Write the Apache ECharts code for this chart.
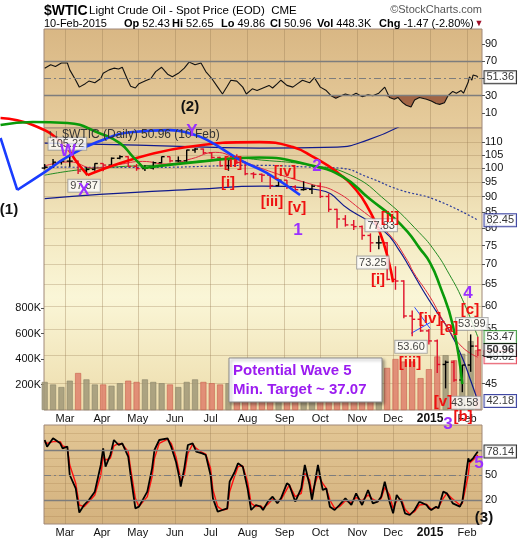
<!DOCTYPE html>
<html><head><meta charset="utf-8">
<script src="https://cdn.jsdelivr.net/npm/echarts@6/dist/echarts.min.js"></script>
<style>html,body{margin:0;padding:0;background:#fff}#c{width:520px;height:540px}</style>
</head><body><div id="c"></div>
<script>
// ---------------- DATA ----------------
const weekDates = ['2014-02-12','2014-02-19','2014-02-26','2014-03-05','2014-03-12','2014-03-19','2014-03-26','2014-04-02','2014-04-09','2014-04-16','2014-04-23','2014-04-30','2014-05-07','2014-05-14','2014-05-21','2014-05-28','2014-06-04','2014-06-11','2014-06-18','2014-06-25','2014-07-02','2014-07-09','2014-07-16','2014-07-23','2014-07-30','2014-08-06','2014-08-13','2014-08-20','2014-08-27','2014-09-03','2014-09-10','2014-09-17','2014-09-24','2014-10-01','2014-10-08','2014-10-15','2014-10-22','2014-10-29','2014-11-05','2014-11-12','2014-11-19','2014-11-26','2014-12-03','2014-12-10','2014-12-17','2014-12-24','2014-12-31','2015-01-07','2015-01-14','2015-01-21','2015-01-28','2015-02-04','2015-02-10'];
const openP  = [100.0,100.3,102.2,102.6,102.6,98.9,99.5,101.7,101.1,103.7,104.3,100.6,99.8,100.0,102.0,104.3,102.7,102.7,106.9,107.3,105.8,104.0,100.9,103.1,102.1,97.9,97.7,97.4,93.7,95.6,93.3,92.3,92.4,93.5,90.0,85.8,82.8,81.0,80.5,77.9,75.8,75.8,66.2,65.8,57.8,57.1,54.7,52.7,48.3,48.7,45.6,48.2,51.7];
const highP  = [101.5,103.4,103.0,105.22,102.8,100.3,101.8,101.8,104.0,104.9,104.5,101.5,101.0,102.5,104.4,104.4,104.4,107.0,107.7,107.5,106.0,104.3,103.2,105.2,102.5,98.5,98.0,97.5,96.0,95.7,93.8,95.2,94.0,94.8,91.0,86.0,84.0,82.5,80.8,78.5,77.83,76.0,69.5,66.0,59.0,58.5,55.1,53.0,49.0,49.0,48.2,53.99,53.5];
const lowP   = [99.5,100.0,101.3,100.5,97.8,97.37,99.0,98.8,100.5,103.3,100.5,99.0,98.9,99.5,101.8,102.1,102.3,102.3,105.8,105.3,103.5,100.5,99.0,101.5,97.4,96.2,95.0,92.5,93.5,92.5,91.5,92.0,90.8,89.5,85.0,80.0,80.5,79.5,76.7,73.25,74.0,66.0,63.7,57.3,53.60,54.5,52.0,46.8,44.2,45.3,43.58,47.0,49.86];
const closeP = [100.3,102.2,102.6,102.6,98.9,99.5,101.7,101.1,103.7,104.3,100.6,99.8,100.0,102.0,104.3,102.7,102.7,106.9,107.3,105.8,104.0,100.9,103.1,102.1,97.9,97.7,97.4,93.7,95.6,93.3,92.3,92.4,93.5,90.0,85.8,82.8,81.0,80.5,77.9,75.8,75.8,66.2,65.8,57.8,57.1,54.7,52.7,48.3,48.7,45.6,48.2,51.7,50.96];
const volumeK = [220,200,180,230,290,240,200,200,190,210,230,220,240,220,210,200,180,220,240,220,210,200,210,230,260,230,220,240,200,220,230,210,230,260,300,360,290,280,270,280,260,330,400,380,380,250,320,420,430,390,440,540,470];

const rsiDates = ['2014-02-12','2014-02-17','2014-02-21','2014-02-26','2014-03-03','2014-03-05','2014-03-10','2014-03-13','2014-03-18','2014-03-21','2014-03-26','2014-03-31','2014-04-02','2014-04-07','2014-04-11','2014-04-15','2014-04-18','2014-04-22','2014-04-25','2014-04-29','2014-05-02','2014-05-07','2014-05-12','2014-05-16','2014-05-21','2014-05-26','2014-05-30','2014-06-04','2014-06-09','2014-06-13','2014-06-18','2014-06-23','2014-06-27','2014-07-02','2014-07-07','2014-07-11','2014-07-15','2014-07-18','2014-07-23','2014-07-28','2014-07-31','2014-08-05','2014-08-09','2014-08-14','2014-08-19','2014-08-22','2014-08-26','2014-08-29','2014-09-03','2014-09-08','2014-09-12','2014-09-16','2014-09-22','2014-09-26','2014-10-01','2014-10-06','2014-10-10','2014-10-14','2014-10-17','2014-10-22','2014-10-27','2014-10-31','2014-11-05','2014-11-10','2014-11-14','2014-11-19','2014-11-24','2014-11-28','2014-12-02','2014-12-05','2014-12-09','2014-12-12','2014-12-16','2014-12-19','2014-12-23','2014-12-29','2015-01-02','2015-01-06','2015-01-09','2015-01-13','2015-01-16','2015-01-20','2015-01-23','2015-01-27','2015-01-29','2015-02-02','2015-02-03','2015-02-05','2015-02-06','2015-02-09','2015-02-10'];
const rsiValues = [62,66,64,68,68,60,48,40,44,47,45,50,56,60,62,61,63,50,41,39,44,47,50,58,63,55,52,56,62,69,66,68,58,50,40,32,41,48,47,40,32,38,36,39,42,39,44,48,42,40,44,48,45,51,40,36,30,27,29,32,30,33,29,31,30,33,40,28,26,28,22,19,17,25,28,26,24,21,20,22,30,35,33,36,33,46,52,48,54,53,51.36];

const stochDates = ['2014-02-12','2014-02-14','2014-02-19','2014-02-25','2014-02-27','2014-03-03','2014-03-05','2014-03-10','2014-03-13','2014-03-17','2014-03-21','2014-03-26','2014-03-31','2014-04-02','2014-04-04','2014-04-08','2014-04-11','2014-04-15','2014-04-18','2014-04-23','2014-04-25','2014-04-29','2014-05-02','2014-05-09','2014-05-13','2014-05-15','2014-05-19','2014-05-26','2014-05-29','2014-06-02','2014-06-05','2014-06-06','2014-06-09','2014-06-12','2014-06-16','2014-06-19','2014-06-24','2014-06-27','2014-07-01','2014-07-03','2014-07-07','2014-07-11','2014-07-15','2014-07-17','2014-07-21','2014-07-24','2014-07-28','2014-08-01','2014-08-04','2014-08-08','2014-08-12','2014-08-14','2014-08-18','2014-08-22','2014-08-26','2014-08-29','2014-09-03','2014-09-05','2014-09-10','2014-09-15','2014-09-18','2014-09-22','2014-09-24','2014-09-29','2014-10-03','2014-10-06','2014-10-09','2014-10-13','2014-10-17','2014-10-22','2014-10-27','2014-10-31','2014-11-05','2014-11-10','2014-11-14','2014-11-18','2014-11-21','2014-11-24','2014-11-28','2014-12-01','2014-12-04','2014-12-08','2014-12-11','2014-12-15','2014-12-19','2014-12-23','2014-12-29','2014-12-31','2015-01-02','2015-01-06','2015-01-08','2015-01-12','2015-01-15','2015-01-16','2015-01-20','2015-01-26','2015-01-28','2015-02-02','2015-02-03','2015-02-06','2015-02-10'];
const stochK = [92,84,94,88,82,84,50,34,5,14,20,30,62,82,60,74,92,86,88,72,50,10,12,30,58,80,92,94,84,66,46,36,58,86,88,78,76,74,50,22,6,8,10,42,53,64,60,34,8,14,12,8,18,24,16,22,40,38,18,34,62,38,20,62,32,34,12,8,14,22,14,28,14,32,16,18,24,42,18,4,26,18,4,2,8,18,14,10,8,12,10,30,28,30,16,12,18,70,66,70,78.14];
const stochD = [90,88,90,90,85,83,62,40,14,12,18,26,50,72,68,70,85,88,87,78,58,22,12,24,48,70,88,93,88,72,52,42,50,76,87,82,77,75,58,32,12,8,9,30,48,60,61,42,16,12,13,10,15,21,19,20,33,38,24,28,52,44,28,50,40,34,20,10,12,19,17,23,19,26,21,18,22,35,26,10,19,21,9,3,6,14,15,12,9,11,11,22,28,29,21,14,16,50,64,68,74];

const ma200Line   = [['2014-02-12',100.4],['2014-05-01',100.2],['2014-08-13',101.0],['2014-09-20',100.4],['2014-10-17',100.0],['2014-11-11',96.5],['2014-12-06',92.3],['2015-01-05',89.0],['2015-02-10',82.45]];
const greenMaLine = [['2014-02-12',97.4],['2014-03-12',99.3],['2014-04-15',100.5],['2014-05-20',101.2],['2014-06-20',102.5],['2014-07-20',103.8],['2014-08-13',103.0],['2014-09-22',101.1],['2014-10-26',97.5],['2014-11-26',88.3],['2014-12-23',78.7],['2015-01-05',73.5],['2015-01-17',67.5],['2015-01-28',61.5],['2015-02-10',53.47]];
const redMaLine   = [['2014-02-12',100.8],['2014-03-05',102.3],['2014-03-25',100.0],['2014-04-15',101.3],['2014-05-05',102.5],['2014-05-25',101.5],['2014-06-15',103.5],['2014-07-05',106.0],['2014-07-25',103.0],['2014-08-15',99.5],['2014-09-05',96.5],['2014-09-25',94.0],['2014-10-12',92.0],['2014-11-03',86.0],['2014-11-27',78.5],['2014-12-13',71.0],['2014-12-18',68.0],['2015-01-01',62.0],['2015-01-14',56.0],['2015-01-28',51.5],['2015-02-10',49.62]];
const navyLowLine = [['2014-02-12',89.3],['2014-03-30',90.7],['2014-06-20',92.5],['2014-08-13',93.5],['2014-09-30',92.2],['2014-10-26',85.5],['2014-11-24',79.0],['2014-12-06',73.8],['2014-12-15',69.1],['2014-12-26',63.6],['2015-01-06',58.9],['2015-01-17',54.8],['2015-01-28',49.5],['2015-02-04',45.5],['2015-02-10',42.18]];
const navyHighLine = [['2014-02-12',109.7],['2014-05-01',108.9],['2014-08-11',107.7],['2014-10-15',108.1],['2014-11-10',111.0],['2014-12-06',116.5]];

const redArcA   = [['2014-01-06',120.4],['2014-02-02',117.3],['2014-02-27',109.7],['2014-03-11',102.2],['2014-03-20',97.4]];
const redArcB   = [['2014-03-20',97.4],['2014-06-11',108.1],['2014-08-11',110.1],['2014-09-08',108.1],['2014-09-25',104.2],['2014-10-15',98.5],['2014-10-31',92.2],['2014-11-11',85.6],['2014-11-20',78.7],['2014-11-27',71.2],['2014-12-01',65.5]];
const greenArcA = [['2014-01-06',117.3],['2014-02-02',118.6],['2014-03-03',118.2],['2014-03-30',113.8],['2014-04-16',109.7],['2014-04-27',104.2],['2014-05-06',100.0]];
const greenArcB = [['2014-05-06',100.0],['2014-06-22',102.4],['2014-08-11',104.0],['2014-09-22',101.1],['2014-10-20',96.8],['2014-11-11',89.3],['2014-12-01',83.3],['2014-12-13',79.0],['2014-12-23',74.4],['2015-01-01',70.4],['2015-01-09',64.8],['2015-01-20',55.9],['2015-01-28',44.9]];
const blueArcA  = [['2014-01-06',111.8],['2014-01-13',101.5],['2014-01-20',92.2]];
const blueArcB  = [['2014-01-20',92.2],['2014-02-12',98.5],['2014-03-03',104.2],['2014-03-28',110.1],['2014-04-27',114.3],['2014-05-28',115.1],['2014-06-13',113.8],['2014-06-28',111.0],['2014-07-26',103.0],['2014-08-17',98.2],['2014-09-14',90.5]];
const triUpper  = [['2014-12-19',59.7],['2015-01-01',55.2]];
const triLower  = [['2014-12-16',54.2],['2015-01-01',56.4]];

const pricePoints = [['2014-03-03',105.22,'top'],['2014-03-17',97.37,'bottom'],['2014-11-14',73.25,'bottom'],['2014-11-21',77.83,'top'],['2014-12-16',53.60,'bottom'],['2015-02-05',53.99,'top'],['2015-01-30',43.58,'bottom']];

const monthStarts = ['2014-03-01','2014-04-01','2014-05-01','2014-06-01','2014-07-01','2014-08-01','2014-09-01','2014-10-01','2014-11-01','2014-12-01','2015-01-01','2015-02-01'];
const monthNames  = ['Mar','Apr','May','Jun','Jul','Aug','Sep','Oct','Nov','Dec','2015','Feb'];
const priceTicks  = [45,50,55,60,65,70,75,80,85,90,95,100,105,110];
const volumeTicks = [200,400,600,800];

// ---------------- CHART ----------------
const FONT = "'Liberation Sans', Arial, sans-serif";
const T = d => Date.parse(d);
const LN = Math.log;
const X_MIN = Date.parse('2014-02-11T10:00:00Z');
const X_MAX = Date.parse('2015-02-13T12:00:00Z');
const monthTs = monthStarts.map(T);
const monthMap = {}; monthTs.forEach((t, i) => monthMap[t] = monthNames[i]);

const G = echarts.graphic;
const gridL = 44, gridW = 438;
const P_TOP = 128, P_H = 282, P_MIN = LN(40.8), P_MAX = LN(116.0);
// overlay grid spanning the left margin and all panels, same price / date scale as the price panel
const O_LEFT = 0, O_TOP = 29, O_BOTTOM = 524;
const msPerPx = (X_MAX - X_MIN) / gridW;
const lnPerPx = (P_MAX - P_MIN) / P_H;
const O_XMIN = X_MIN - (gridL - O_LEFT) * msPerPx;
const O_YMAX = P_MAX + (P_TOP - O_TOP) * lnPerPx;
const O_YMIN = P_MIN - (O_BOTTOM - (P_TOP + P_H)) * lnPerPx;

function xAxis(gi, labels) {
  return {
    type: 'value', gridIndex: gi, min: X_MIN, max: X_MAX,
    axisLine: { show: false },
    axisTick: { show: false, customValues: monthTs },
    axisLabel: {
      show: labels, customValues: monthTs, margin: 3, fontSize: 11, color: '#111', fontFamily: FONT,
      formatter: v => monthMap[v] === '2015' ? '{b|2015}' : (monthMap[v] || ''),
      rich: { b: { fontWeight: 'bold', fontSize: 12, fontFamily: FONT, color: '#111' } }
    },
    splitLine: { show: true, lineStyle: { color: 'rgba(150,120,80,0.35)', width: 1 } }
  };
}

const line = (data, color, width, extra) => Object.assign({
  type: 'line', xAxisIndex: 1, yAxisIndex: 1, showSymbol: false, symbol: 'none', smooth: true,
  data: data.map(p => [T(p[0]), LN(p[1])]),
  lineStyle: { color, width }, silent: true, animation: false
}, extra || {});
const arc = (data, color) => line(data, color, 2.6, { xAxisIndex: 3, yAxisIndex: 4, z: 6 });

const ohlc = weekDates.map((d, i) => [T(d), LN(openP[i]), LN(highP[i]), LN(lowP[i]), LN(closeP[i]),
  (i === 0 ? closeP[i] >= openP[i] : closeP[i] >= closeP[i - 1]) ? 1 : 0]);

function tag(gi, yi, value, text, color, bold) {
  return {
    type: 'scatter', xAxisIndex: gi, yAxisIndex: yi, symbolSize: 1, itemStyle: { color: 'rgba(0,0,0,0)' },
    data: [[X_MAX, value]], silent: true, animation: false, z: 20, clip: false,
    label: {
      show: true, position: 'right', distance: 2, formatter: text,
      fontSize: 11, fontFamily: FONT, fontWeight: bold ? 'bold' : 'normal', color: '#000',
      backgroundColor: '#fff', borderColor: color, borderWidth: 1, padding: [1, 2, 0, 2]
    }
  };
}

const dashDot = [7, 3, 2, 3];
const option = {
  animation: false,
  backgroundColor: '#fff',
  grid: [
    { left: gridL, width: gridW, top: 29, height: 99, show: true, borderColor: '#a08878', borderWidth: 1,
      backgroundColor: new G.LinearGradient(0, 0, 0, 1, [{ offset: 0, color: '#d9b784' }, { offset: 1, color: '#e6cc9c' }]) },
    { left: gridL, width: gridW, top: P_TOP, height: P_H, show: true, borderColor: '#a08878', borderWidth: 1,
      backgroundColor: new G.LinearGradient(0, 0, 0, 1, [{ offset: 0, color: '#dfc493' }, { offset: 0.35, color: '#f3e8c0' }, { offset: 0.6, color: '#faf6d7' }, { offset: 1, color: '#eddcab' }]) },
    { left: gridL, width: gridW, top: 425, height: 99, show: true, borderColor: '#a08878', borderWidth: 1,
      backgroundColor: new G.LinearGradient(0, 0, 0, 1, [{ offset: 0, color: '#e2c695' }, { offset: 1, color: '#d4b27e' }]) },
    { left: O_LEFT, width: gridL + gridW - O_LEFT, top: O_TOP, height: O_BOTTOM - O_TOP, show: false }
  ],
  xAxis: [xAxis(0, false), xAxis(1, true), xAxis(2, true),
    { type: 'value', gridIndex: 3, min: O_XMIN, max: X_MAX, show: false }],
  yAxis: [
    { type: 'value', gridIndex: 0, position: 'right', min: -7.4, max: 107.4,
      axisLine: { show: false }, splitLine: { show: false },
      axisTick: { show: true, length: 3, customValues: [10, 30, 50, 70, 90], lineStyle: { color: '#555' } },
      axisLabel: { customValues: [10, 30, 70, 90], margin: 3, fontSize: 11, color: '#111', fontFamily: FONT } },
    { type: 'value', gridIndex: 1, position: 'right', min: P_MIN, max: P_MAX,
      axisLine: { show: false },
      splitLine: { show: true, lineStyle: { color: 'rgba(150,120,80,0.3)', width: 1 } },
      axisTick: { show: true, length: 3, customValues: priceTicks.map(LN), lineStyle: { color: '#555' } },
      axisLabel: { customValues: priceTicks.map(LN), margin: 3, fontSize: 11, color: '#111', fontFamily: FONT,
        formatter: v => String(Math.round(Math.exp(v))) } },
    { type: 'value', gridIndex: 1, position: 'left', min: 0, max: 2212,
      axisLine: { show: false }, splitLine: { show: false },
      axisTick: { show: true, length: 3, customValues: volumeTicks, lineStyle: { color: '#555' } },
      axisLabel: { customValues: volumeTicks, margin: 3, fontSize: 11, color: '#111', fontFamily: FONT, formatter: v => v + 'K' } },
    { type: 'value', gridIndex: 2, position: 'right', min: -8.8, max: 110,
      axisLine: { show: false },
      splitLine: { show: true, lineStyle: { color: 'rgba(150,110,60,0.22)', width: 1 } },
      axisTick: { show: false, customValues: [0, 10, 20, 30, 40, 50, 60, 70, 80, 90, 100] },
      axisLabel: { customValues: [20, 50], margin: 3, fontSize: 11, color: '#111', fontFamily: FONT } },
    { type: 'value', gridIndex: 3, min: O_YMIN, max: O_YMAX, show: false }
  ],
  series: [
    // RSI panel
    { type: 'line', xAxisIndex: 0, yAxisIndex: 0, symbol: 'none', silent: true,
      data: rsiDates.map((d, i) => [T(d), Math.min(rsiValues[i], 30)]),
      lineStyle: { width: 0 }, areaStyle: { origin: 30, color: '#9b5a3c', opacity: 0.9 } },
    { type: 'line', xAxisIndex: 0, yAxisIndex: 0, symbol: 'none', silent: true,
      data: rsiDates.map((d, i) => [T(d), rsiValues[i]]),
      lineStyle: { color: '#111', width: 1.1 },
      markLine: { silent: true, symbol: 'none', label: { show: false },
        data: [ { yAxis: 70, lineStyle: { color: '#7d7d7d', width: 1.3, type: 'solid' } },
                { yAxis: 30, lineStyle: { color: '#7d7d7d', width: 1.3, type: 'solid' } },
                { yAxis: 50, lineStyle: { color: '#7d7d7d', width: 1.1, type: dashDot } } ] } },
    tag(0, 0, 51.36, '51.36', '#000', false),

    // Volume
    { type: 'bar', xAxisIndex: 1, yAxisIndex: 2, silent: true, barWidth: 6, z: 1,
      data: weekDates.map((d, i) => ({ value: [T(d), volumeK[i]],
        itemStyle: { color: ohlc[i][5] ? 'rgba(160,152,120,0.85)' : 'rgba(222,128,108,0.85)',
                     borderColor: ohlc[i][5] ? '#8a8468' : '#c8604c', borderWidth: 0.6 } })) },

    // Bands & moving averages
    line(navyHighLine, '#101a8c', 1.2),
    line(navyLowLine, '#101a8c', 1.2),
    line(ma200Line, '#2c3c9c', 1.2, { lineStyle: { color: '#2c3c9c', width: 1.2, type: [2, 2] } }),
    line(greenMaLine, '#228b22', 1),
    line(redMaLine, '#e0283c', 1),
    line(triUpper, '#2a4cff', 1, { smooth: false }),
    line(triLower, '#2a4cff', 1, { smooth: false }),

    // Price bars
    { type: 'custom', xAxisIndex: 1, yAxisIndex: 1, silent: true, z: 5,
      data: ohlc, encode: { x: 0, y: [1, 2, 3, 4] },
      renderItem: (params, api) => {
        const x = api.value(0);
        const o = api.coord([x, api.value(1)]), h = api.coord([x, api.value(2)]);
        const l = api.coord([x, api.value(3)]), c = api.coord([x, api.value(4)]);
        const col = api.value(5) ? '#000' : '#e0102a';
        const st = { stroke: col, lineWidth: 1.4 };
        return { type: 'group', children: [
          { type: 'line', shape: { x1: h[0], y1: h[1], x2: l[0], y2: l[1] }, style: st },
          { type: 'line', shape: { x1: o[0] - 3, y1: o[1], x2: o[0], y2: o[1] }, style: st },
          { type: 'line', shape: { x1: c[0], y1: c[1], x2: c[0] + 3, y2: c[1] }, style: st } ] };
      } },

    // Hand-drawn cycle arcs (overlay grid, may run into the margin and the RSI panel)
    arc(redArcA, '#ff0000'), arc(redArcB, '#ff0000'),
    arc(greenArcA, '#0a9a0a'), arc(greenArcB, '#0a9a0a'),
    arc(blueArcA, '#1a3cff'), arc(blueArcB, '#1a3cff'),

    // price point boxes
    { type: 'scatter', xAxisIndex: 1, yAxisIndex: 1, symbolSize: 1, itemStyle: { color: 'rgba(0,0,0,0)' }, silent: true, z: 15,
      data: pricePoints.map(p => ({ value: [T(p[0]), LN(p[1])],
        label: { show: true, position: p[2], distance: 4, formatter: p[1].toFixed(2), fontSize: 11, fontFamily: FONT,
          color: '#111', backgroundColor: '#fff', borderColor: '#9a9a9a', borderWidth: 1, padding: [1, 2, 0, 2] } })) },

    // price tags
    tag(1, 1, LN(82.45), '82.45', '#101a8c', false),
    tag(1, 1, LN(53.47), '53.47', '#228b22', false),
    tag(1, 1, LN(49.62), '49.62', '#e0283c', false),
    tag(1, 1, LN(42.18), '42.18', '#101a8c', false),
    tag(1, 1, LN(50.96), '50.96', '#000', true),

    // Stochastic panel
    { type: 'line', xAxisIndex: 2, yAxisIndex: 3, symbol: 'none', silent: true,
      data: stochDates.map((d, i) => [T(d), stochD[i]]), lineStyle: { color: '#ff1010', width: 1.4 },
      markLine: { silent: true, symbol: 'none', label: { show: false },
        data: [ { yAxis: 80, lineStyle: { color: '#7d7d7d', width: 1.3, type: 'solid' } },
                { yAxis: 20, lineStyle: { color: '#7d7d7d', width: 1.3, type: 'solid' } },
                { yAxis: 50, lineStyle: { color: '#7d7d7d', width: 1.1, type: dashDot } } ] } },
    { type: 'line', xAxisIndex: 2, yAxisIndex: 3, symbol: 'none', silent: true,
      data: stochDates.map((d, i) => [T(d), stochK[i]]), lineStyle: { color: '#000', width: 1.8 } },
    tag(2, 3, 78.14, '78.14', '#000', false)
  ],
  graphic: [
    { type: 'text', x: 44, y: 11, style: { text: '$WTIC', font: 'bold 14px ' + FONT, fill: '#000', verticalAlign: 'middle' } },
    { type: 'text', x: 89, y: 11, style: { text: 'Light Crude Oil - Spot Price (EOD)  CME', font: '11.5px ' + FONT, fill: '#000', verticalAlign: 'middle' } },
    { type: 'text', x: 482, y: 10, style: { text: '©StockCharts.com', font: '11px ' + FONT, fill: '#555', align: 'right', verticalAlign: 'middle' } },
    { type: 'text', x: 44, y: 24, style: { text: '10-Feb-2015', font: '11px ' + FONT, fill: '#000', verticalAlign: 'middle' } },
    ...[['Op', '52.43', 124], ['Hi', '52.65', 172], ['Lo', '49.86', 221], ['Cl', '50.96', 270], ['Vol', '448.3K', 317], ['Chg', '-1.47 (-2.80%)', 379]].map(a => ({
      type: 'text', x: a[2], y: 24, style: { text: '{b|' + a[0] + '} ' + a[1], font: '11px ' + FONT, fill: '#000', verticalAlign: 'middle',
        rich: { b: { font: 'bold 11px ' + FONT, fill: '#000' } } } })),
    { type: 'text', x: 479, y: 24, style: { text: '▼', font: '9px ' + FONT, fill: '#a0102a', align: 'center', verticalAlign: 'middle' } },

    { type: 'text', x: 47, y: 135, z: 30, style: { text: '↑↓ $WTIC (Daily) 50.96 (10 Feb)', font: '12px ' + FONT, fill: '#333', verticalAlign: 'middle' } },

    // Elliott wave labels
    ...[['(2)', 190, 107], ['(1)', 9, 210], ['(3)', 484, 518]].map(a => ({ type: 'text', x: a[1], y: a[2], z: 30,
      style: { text: a[0], font: 'bold 15px ' + FONT, fill: '#111', align: 'center', verticalAlign: 'middle' } })),
    ...[['W', 68, 151], ['X', 84, 190], ['Y', 192, 131], ['2', 317, 166], ['1', 298, 230], ['3', 448, 424], ['4', 468, 293], ['5', 479, 463]].map(a => ({
      type: 'text', x: a[1], y: a[2], z: 30, style: { text: a[0], font: 'bold 17px ' + FONT, fill: '#9b30ff', align: 'center', verticalAlign: 'middle' } })),
    ...[['[ii]', 233, 163], ['[i]', 228, 183], ['[iv]', 285, 172], ['[iii]', 272, 202], ['[v]', 297, 208],
        ['[ii]', 390, 218], ['[i]', 378, 280], ['[iii]', 410, 363], ['[iv]', 430, 319], ['[v]', 443, 402],
        ['[a]', 449, 328], ['[b]', 463, 417], ['[c]', 470, 310]].map(a => ({
      type: 'text', x: a[1], y: a[2], z: 30, style: { text: a[0], font: 'bold 15px ' + FONT, fill: '#ee1111', align: 'center', verticalAlign: 'middle' } })),

    // target box
    { type: 'rect', z: 25, shape: { x: 229, y: 358, width: 153, height: 44 },
      style: { fill: '#fff', stroke: '#8a8a8a', lineWidth: 1, shadowBlur: 3, shadowOffsetX: 2, shadowOffsetY: 2, shadowColor: 'rgba(0,0,0,0.35)' } },
    { type: 'text', x: 233, y: 371, z: 26, style: { text: 'Potential Wave 5', font: 'bold 15px ' + FONT, fill: '#9b1cf0', verticalAlign: 'middle' } },
    { type: 'text', x: 233, y: 390, z: 26, style: { text: 'Min. Target ~ 37.07', font: 'bold 15px ' + FONT, fill: '#9b1cf0', verticalAlign: 'middle' } }
  ]
};

const chart = echarts.init(document.getElementById('c'), null, { renderer: 'canvas' });
chart.setOption(option);
</script>
</body></html>
